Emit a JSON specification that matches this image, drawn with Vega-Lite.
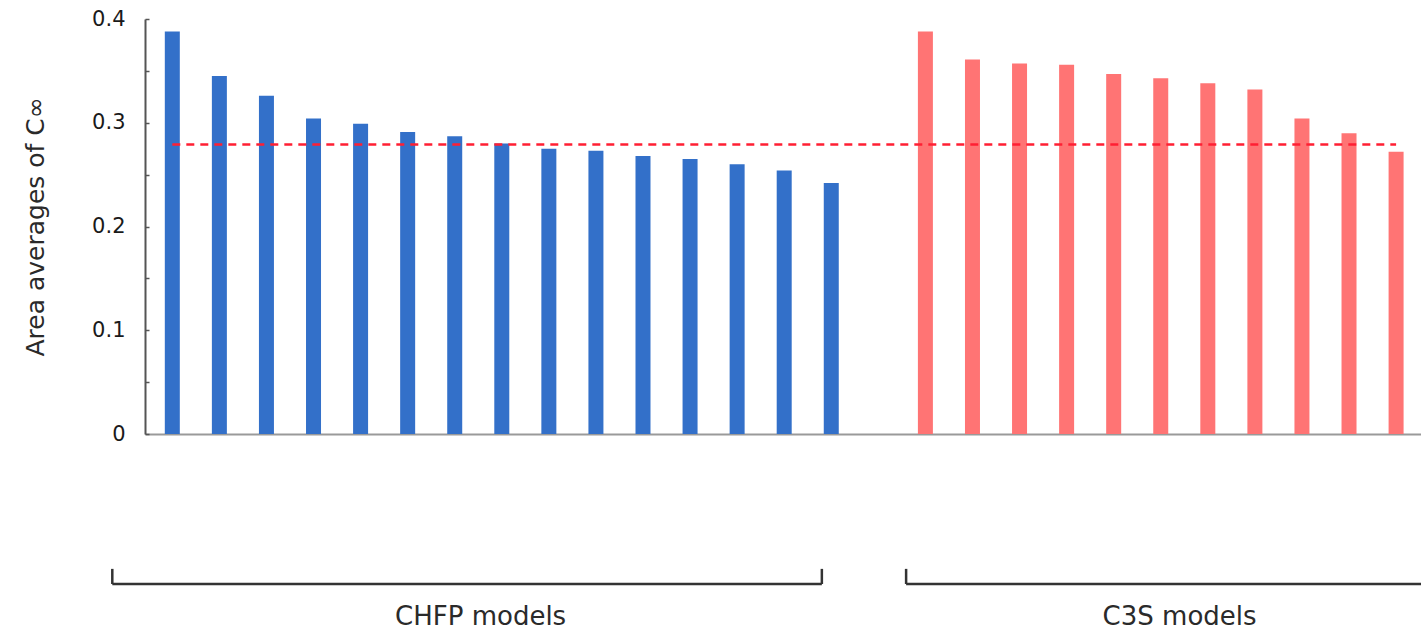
{
  "$schema": "https://vega.github.io/schema/vega-lite/v6.json",
  "width": 1276,
  "height": 415,
  "autosize": "none",
  "padding": {"left": 145, "top": 19, "right": 0, "bottom": 199},
  "background": "white",
  "config": {"view": {"stroke": null}, "font": "DejaVu Sans"},
  "datasets": {
    "bars": [
      {"group": "CHFP", "model": "CHFP 1", "order": 1, "value": 0.388},
      {"group": "CHFP", "model": "CHFP 2", "order": 2, "value": 0.345},
      {"group": "CHFP", "model": "CHFP 3", "order": 3, "value": 0.326},
      {"group": "CHFP", "model": "CHFP 4", "order": 4, "value": 0.304},
      {"group": "CHFP", "model": "CHFP 5", "order": 5, "value": 0.299},
      {"group": "CHFP", "model": "CHFP 6", "order": 6, "value": 0.291},
      {"group": "CHFP", "model": "CHFP 7", "order": 7, "value": 0.287},
      {"group": "CHFP", "model": "CHFP 8", "order": 8, "value": 0.280},
      {"group": "CHFP", "model": "CHFP 9", "order": 9, "value": 0.275},
      {"group": "CHFP", "model": "CHFP 10", "order": 10, "value": 0.273},
      {"group": "CHFP", "model": "CHFP 11", "order": 11, "value": 0.268},
      {"group": "CHFP", "model": "CHFP 12", "order": 12, "value": 0.265},
      {"group": "CHFP", "model": "CHFP 13", "order": 13, "value": 0.260},
      {"group": "CHFP", "model": "CHFP 14", "order": 14, "value": 0.254},
      {"group": "CHFP", "model": "CHFP 15", "order": 15, "value": 0.242},
      {"group": "C3S", "model": "C3S 1", "order": 17, "value": 0.388},
      {"group": "C3S", "model": "C3S 2", "order": 18, "value": 0.361},
      {"group": "C3S", "model": "C3S 3", "order": 19, "value": 0.357},
      {"group": "C3S", "model": "C3S 4", "order": 20, "value": 0.356},
      {"group": "C3S", "model": "C3S 5", "order": 21, "value": 0.347},
      {"group": "C3S", "model": "C3S 6", "order": 22, "value": 0.343},
      {"group": "C3S", "model": "C3S 7", "order": 23, "value": 0.338},
      {"group": "C3S", "model": "C3S 8", "order": 24, "value": 0.332},
      {"group": "C3S", "model": "C3S 9", "order": 25, "value": 0.304},
      {"group": "C3S", "model": "C3S 10", "order": 26, "value": 0.290},
      {"group": "C3S", "model": "C3S 11", "order": 27, "value": 0.272}
    ],
    "brackets": [
      {"label": "CHFP models", "start": -0.275, "end": 14.8, "mid": 7.55},
      {"label": "C3S models", "start": 16.59, "end": 28.7, "mid": 22.4}
    ],
    "mean": [
      {"from": 1, "to": 27, "mean": 0.279}
    ]
  },
  "layer": [
    {
      "data": {"name": "bars"},
      "mark": {"type": "bar", "size": 15},
      "encoding": {
        "x": {
          "field": "order",
          "type": "quantitative",
          "scale": {"domain": [0.526, 27.423], "nice": false, "zero": false},
          "axis": {"title": null, "labels": false, "ticks": false, "grid": false, "domainColor": "#9a9a9a", "domainWidth": 2}
        },
        "y": {
          "field": "value",
          "type": "quantitative",
          "scale": {"domain": [0, 0.4], "nice": false},
          "axis": {
            "title": "Area averages of C∞",
            "titleFont": "DejaVu Sans",
            "titleFontSize": 25,
            "titleFontWeight": "normal",
            "titleColor": "#2a2a2a",
            "titlePadding": 43,
            "values": [0, 0.025, 0.05, 0.075, 0.1, 0.125, 0.15, 0.175, 0.2, 0.225, 0.25, 0.275, 0.3, 0.325, 0.35, 0.375, 0.4],
            "labelExpr": "round(datum.value * 40) % 4 === 0 ? format(datum.value, '.1~f') : ''",
            "labelOverlap": false,
            "labelFont": "DejaVu Sans",
            "labelFontSize": 21,
            "labelColor": "#1a1a1a",
            "labelPadding": 24,
            "tickSize": -4,
            "tickColor": "#555555",
            "tickWidth": 1.5,
            "domainColor": "#555555",
            "domainWidth": 2,
            "grid": false
          }
        },
        "color": {
          "field": "group",
          "type": "nominal",
          "scale": {"domain": ["CHFP", "C3S"], "range": ["#3370c9", "#ff7474"]},
          "legend": null
        }
      }
    },
    {
      "data": {"name": "mean"},
      "mark": {"type": "rule", "color": "#ff1f33", "strokeWidth": 2.6, "strokeDash": [8, 6]},
      "encoding": {
        "x": {"field": "from", "type": "quantitative"},
        "x2": {"field": "to"},
        "y": {"field": "mean", "type": "quantitative"}
      }
    },
    {
      "data": {"name": "brackets"},
      "mark": {"type": "rule", "color": "#333333", "strokeWidth": 2.5},
      "encoding": {
        "x": {"field": "start", "type": "quantitative"},
        "x2": {"field": "end"},
        "y": {"datum": -0.1446, "type": "quantitative"}
      }
    },
    {
      "data": {"name": "brackets"},
      "mark": {"type": "rule", "color": "#333333", "strokeWidth": 2.5},
      "encoding": {
        "x": {"field": "start", "type": "quantitative"},
        "y": {"datum": -0.1446, "type": "quantitative"},
        "y2": {"datum": -0.13}
      }
    },
    {
      "data": {"name": "brackets"},
      "mark": {"type": "rule", "color": "#333333", "strokeWidth": 2.5},
      "encoding": {
        "x": {"field": "end", "type": "quantitative"},
        "y": {"datum": -0.1446, "type": "quantitative"},
        "y2": {"datum": -0.13}
      }
    },
    {
      "data": {"name": "brackets"},
      "mark": {"type": "text", "font": "DejaVu Sans", "fontSize": 26, "color": "#2a2a2a", "baseline": "alphabetic", "align": "center"},
      "encoding": {
        "x": {"field": "mid", "type": "quantitative"},
        "y": {"datum": -0.1841, "type": "quantitative"},
        "text": {"field": "label"}
      }
    }
  ]
}
